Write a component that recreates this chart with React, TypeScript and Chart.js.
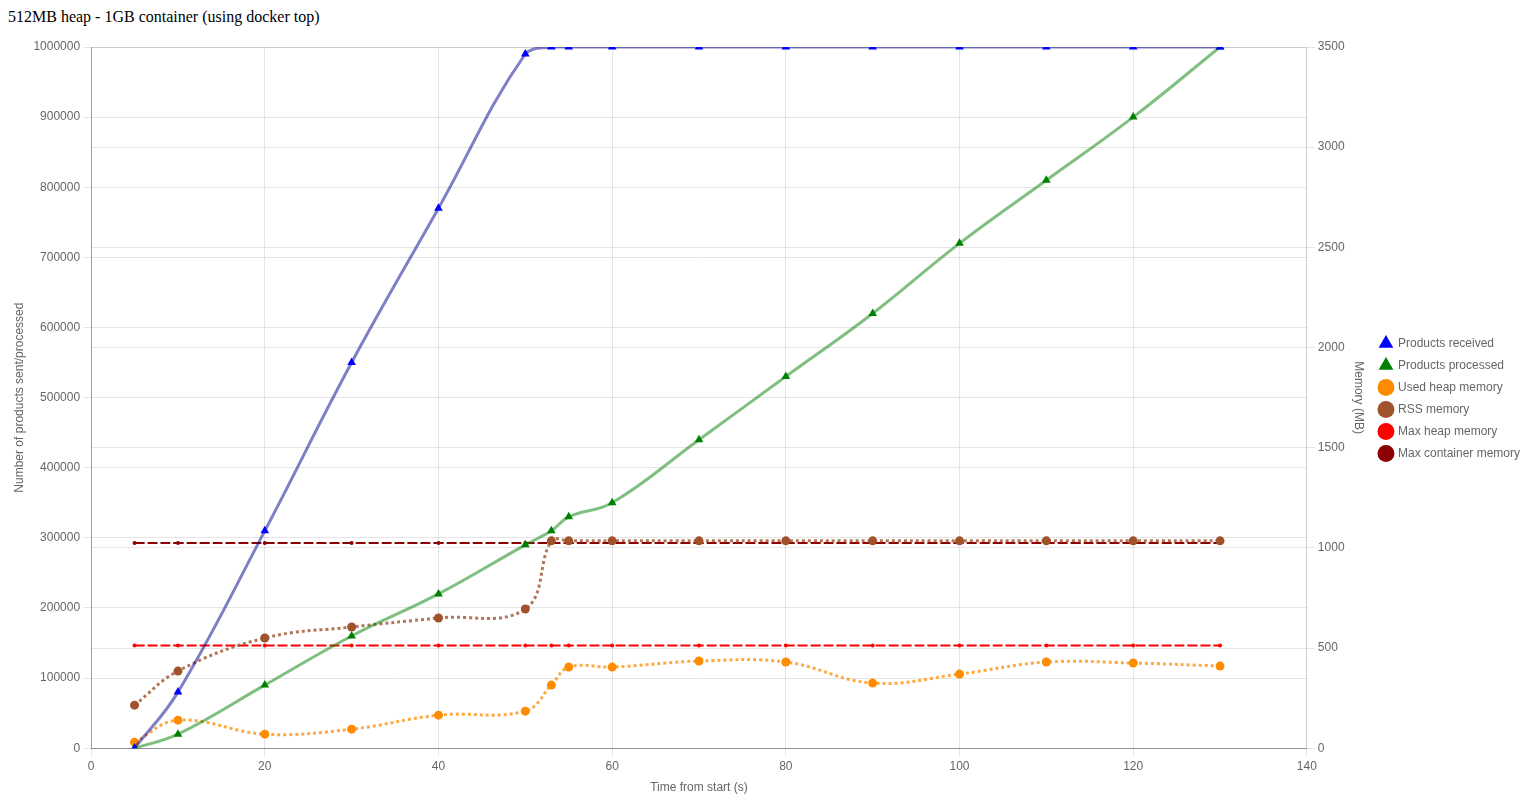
import React, { useEffect, useRef } from "react";
import { Chart, registerables } from "chart.js";

Chart.register(...registerables);

const TIMES = [5, 10, 20, 30, 40, 50, 53, 55, 60, 70, 80, 90, 100, 110, 120, 130];
const PRODUCTS_RECEIVED = [0, 80000, 310000, 550000, 770000, 990000, 1000000, 1000000, 1000000, 1000000, 1000000, 1000000, 1000000, 1000000, 1000000, 1000000];
const PRODUCTS_PROCESSED = [0, 20000, 90000, 160000, 220000, 290000, 310000, 330000, 350000, 440000, 530000, 620000, 720000, 810000, 900000, 1000000];
const USED_HEAP = [30, 140, 70, 95, 165, 185, 315, 405, 405, 435, 430, 325, 370, 430, 425, 410];
const RSS = [215, 385, 550, 605, 650, 695, 1035, 1035, 1035, 1035, 1035, 1035, 1035, 1035, 1035, 1035];
const MAX_HEAP = TIMES.map(() => 512);
const MAX_CONTAINER = TIMES.map(() => 1024);

const toXY = (ys: number[]) => TIMES.map((t, i) => ({ x: t, y: ys[i] }));

const legendToChartArea = {
  id: "legendToChartArea",
  afterLayout(chart: any) {
    const lg = chart.legend;
    if (!lg) return;
    lg.top = chart.chartArea.top;
    lg.bottom = chart.chartArea.bottom + 2;
    lg.height = lg.bottom - lg.top;
  },
};

export default function App() {
  const ref = useRef<HTMLCanvasElement | null>(null);
  useEffect(() => {
    document.body.style.margin = "0";
    document.body.style.overflow = "hidden";
    const chart = new Chart(ref.current!, {
      type: "line",
      data: {
        datasets: [
          {
            label: "Products received",
            data: toXY(PRODUCTS_RECEIVED),
            yAxisID: "y",
            borderColor: "rgba(0,0,139,0.5)",
            backgroundColor: "blue",
            pointBackgroundColor: "blue",
            pointBorderColor: "blue",
            pointStyle: "triangle",
            pointRadius: 5,
            pointBorderWidth: 0,
            borderWidth: 3,
            tension: 0.4,
            fill: false,
          },
          {
            label: "Products processed",
            data: toXY(PRODUCTS_PROCESSED),
            yAxisID: "y",
            borderColor: "rgba(0,128,0,0.5)",
            backgroundColor: "green",
            pointBackgroundColor: "green",
            pointBorderColor: "green",
            pointStyle: "triangle",
            pointRadius: 5,
            pointBorderWidth: 0,
            borderWidth: 3,
            tension: 0.4,
            fill: false,
          },
          {
            label: "Used heap memory",
            data: toXY(USED_HEAP),
            yAxisID: "y1",
            borderColor: "rgba(255,140,0,0.75)",
            backgroundColor: "darkorange",
            pointBackgroundColor: "darkorange",
            pointBorderColor: "darkorange",
            pointStyle: "circle",
            pointRadius: 4.5,
            pointBorderWidth: 0,
            borderWidth: 3,
            borderDash: [3, 3],
            tension: 0.4,
            fill: false,
          },
          {
            label: "RSS memory",
            data: toXY(RSS),
            yAxisID: "y1",
            borderColor: "rgba(160,82,45,0.8)",
            backgroundColor: "sienna",
            pointBackgroundColor: "sienna",
            pointBorderColor: "sienna",
            pointStyle: "circle",
            pointRadius: 4.5,
            pointBorderWidth: 0,
            borderWidth: 3,
            borderDash: [3, 3],
            tension: 0.4,
            fill: false,
          },
          {
            label: "Max heap memory",
            data: toXY(MAX_HEAP),
            yAxisID: "y1",
            borderColor: "red",
            backgroundColor: "red",
            pointBackgroundColor: "red",
            pointBorderColor: "red",
            pointStyle: "circle",
            pointRadius: 2,
            pointBorderWidth: 0,
            borderWidth: 2,
            borderDash: [10, 3],
            tension: 0.4,
            fill: false,
          },
          {
            label: "Max container memory",
            data: toXY(MAX_CONTAINER),
            yAxisID: "y1",
            borderColor: "darkred",
            backgroundColor: "darkred",
            pointBackgroundColor: "darkred",
            pointBorderColor: "darkred",
            pointStyle: "circle",
            pointRadius: 2,
            pointBorderWidth: 0,
            borderWidth: 2,
            borderDash: [10, 3],
            tension: 0.4,
            fill: false,
          },
        ],
      },
      options: {
        animation: false,
        responsive: true,
        maintainAspectRatio: false,
        layout: { padding: { top: 21, bottom: 2 } },
        plugins: {
          legend: {
            position: "right",
            labels: { usePointStyle: true, color: "#666", font: { size: 12 } },
          },
          tooltip: { enabled: false },
        },
        scales: {
          x: {
            type: "linear",
            min: 0,
            max: 140,
            ticks: { stepSize: 20, color: "#666", callback: (v: any) => String(v) },
            title: { display: true, text: "Time from start (s)", color: "#666" },
            border: { color: "rgba(0,0,0,0.3)" },
          },
          y: {
            type: "linear",
            position: "left",
            min: 0,
            max: 1000000,
            ticks: { stepSize: 100000, color: "#666", callback: (v: any) => String(v) },
            title: { display: true, text: "Number of products sent/processed", color: "#666" },
            border: { color: "rgba(0,0,0,0.3)" },
          },
          y1: {
            type: "linear",
            position: "right",
            min: 0,
            max: 3500,
            ticks: { stepSize: 500, color: "#666", callback: (v: any) => String(v) },
            title: { display: true, text: "Memory (MB)", color: "#666" },
          },
        },
      },
      plugins: [legendToChartArea],
    });
    return () => chart.destroy();
  }, []);
  return (
    <div style={{ paddingLeft: 8, paddingTop: 8 }}>
      <div style={{ fontFamily: "'Liberation Serif', 'Times New Roman', serif", fontSize: 16 }}>
        512MB heap - 1GB container (using docker top)
      </div>
      <div style={{ position: "relative", width: 1522, height: 775 }}>
        <canvas ref={ref} />
      </div>
    </div>
  );
}
